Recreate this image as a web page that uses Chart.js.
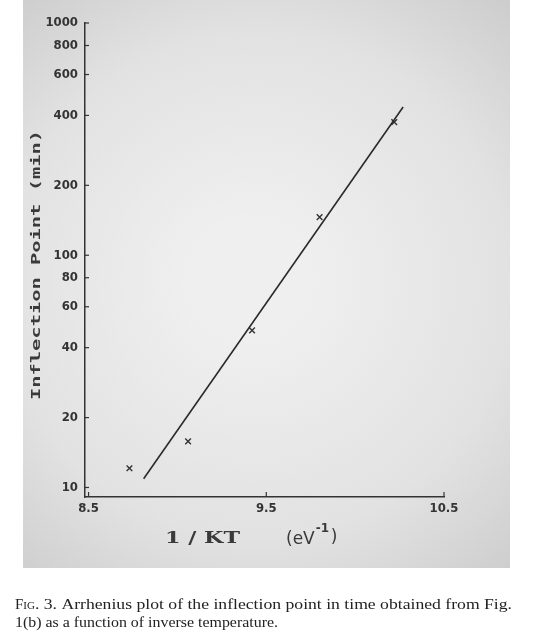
<!DOCTYPE html>
<html>
<head>
<meta charset="utf-8">
<script src="https://cdn.jsdelivr.net/npm/chart.js@4"></script>
<style>
html,body{margin:0;padding:0;background:#fff;}
#wrap{width:545px;height:643px;position:relative;}
</style>
</head>
<body>
<div id="wrap"><canvas id="c" width="545" height="643"></canvas></div>
<script>
// Data
const xValues = [8.73, 9.06, 9.42, 9.80, 10.22];      // 1/KT (eV^-1)
const yValues = [12.1, 15.8, 47.5, 146, 374];         // inflection point (min)
const fitX = [8.81, 10.27];
const fitY = [10.9, 435];
const yTickValues = [10, 20, 40, 60, 80, 100, 200, 400, 600, 800, 1000];
const xTickValues = [8.5, 9.5, 10.5];
const yTitle = 'Inflection Point (min)';
const xTitleMain = '1 / KT';
const xTitleUnit = '(eV';
const captionLine1 = 'Arrhenius plot of the inflection point in time obtained from Fig.';
const captionLine2 = '1(b) as a function of inverse temperature.';

const decor = {
  id: 'decor',
  beforeDraw(chart) {
    const ctx = chart.ctx;
    ctx.save();
    ctx.fillStyle = '#fff';
    ctx.fillRect(0, 0, chart.width, chart.height);
    const g = ctx.createRadialGradient(250, 280, 60, 260, 290, 380);
    g.addColorStop(0, '#efefef');
    g.addColorStop(0.6, '#e2e2e2');
    g.addColorStop(1, '#cdcdcd');
    ctx.fillStyle = g;
    ctx.fillRect(23, 0, 487, 568);
    ctx.restore();
  },
  afterDraw(chart) {
    const ctx = chart.ctx;
    const xs = chart.scales.x, ys = chart.scales.y;
    const ca = chart.chartArea;
    ctx.save();
    ctx.strokeStyle = '#333';
    ctx.lineWidth = 1.2;
    // inward tick marks
    ys.ticks.forEach(t => {
      const py = ys.getPixelForValue(t.value);
      ctx.beginPath(); ctx.moveTo(ca.left, py); ctx.lineTo(ca.left + 4, py); ctx.stroke();
    });
    xs.ticks.forEach(t => {
      const px = xs.getPixelForValue(t.value);
      ctx.beginPath(); ctx.moveTo(px, ca.bottom); ctx.lineTo(px, ca.bottom - 5); ctx.stroke();
    });
    // y title, rotated and stretched to its length in the figure
    ctx.fillStyle = '#3a3a3a';
    ctx.font = "bold 13px 'DejaVu Sans Mono', monospace";
    ctx.translate(37, 265);
    ctx.rotate(-Math.PI / 2);
    const w = ctx.measureText(yTitle).width;
    ctx.scale(270 / w, 1);
    ctx.textAlign = 'center'; ctx.textBaseline = 'middle';
    ctx.fillText(yTitle, 0, 0);
    ctx.restore();

    // x title
    ctx.save();
    ctx.fillStyle = '#3a3a3a';
    ctx.textBaseline = 'middle';
    ctx.textAlign = 'left';
    ctx.font = "bold 16px 'DejaVu Serif', serif";
    const mw = ctx.measureText(xTitleMain).width;
    ctx.save();
    ctx.translate(165, 539);
    ctx.scale(75 / mw, 1);
    ctx.fillText(xTitleMain, 0, 0);
    ctx.restore();
    ctx.font = "17px 'DejaVu Sans', sans-serif";
    ctx.fillText(xTitleUnit, 286, 540);
    const uw = ctx.measureText(xTitleUnit).width;
    ctx.font = "bold 12px 'DejaVu Sans', sans-serif";
    ctx.fillText('-1', 286 + uw + 1, 529);
    ctx.font = "17px 'DejaVu Sans', sans-serif";
    ctx.fillText(')', 286 + uw + 16, 538);

    // caption
    ctx.fillStyle = '#222';
    ctx.textBaseline = 'alphabetic';
    let x = 15;
    ctx.font = "15px 'Liberation Serif', serif";
    ctx.fillText('F', x, 609); x += ctx.measureText('F').width;
    ctx.font = "11px 'Liberation Serif', serif";
    ctx.fillText('IG', x, 609); x += ctx.measureText('IG').width;
    ctx.font = "15px 'Liberation Serif', serif";
    const rest = '. 3. ' + captionLine1;
    const target = 512 - x;
    const rw = ctx.measureText(rest).width;
    ctx.save();
    ctx.translate(x, 609);
    ctx.scale(target / rw, 1);
    ctx.fillText(rest, 0, 0);
    ctx.restore();
    const w2 = ctx.measureText(captionLine2).width;
    ctx.save();
    ctx.translate(15, 627);
    ctx.scale(263 / w2, 1);
    ctx.fillText(captionLine2, 0, 0);
    ctx.restore();
    ctx.restore();
  }
};

new Chart(document.getElementById('c'), {
  type: 'scatter',
  data: {
    datasets: [
      {
        label: 'fit',
        type: 'line',
        data: fitX.map((x, i) => ({x, y: fitY[i]})),
        borderColor: '#2a2a2a',
        borderWidth: 1.6,
        pointRadius: 0,
        fill: false,
        tension: 0
      },
      {
        label: 'measured',
        data: xValues.map((x, i) => ({x, y: yValues[i]})),
        pointStyle: 'crossRot',
        pointRadius: 4,
        borderColor: '#333',
        borderWidth: 1.4,
        backgroundColor: '#333'
      }
    ]
  },
  options: {
    responsive: false,
    animation: false,
    devicePixelRatio: 1,
    layout: { padding: { left: 0, right: 101, top: 23, bottom: 126 } },
    plugins: { legend: { display: false }, tooltip: { enabled: false } },
    scales: {
      x: {
        type: 'linear',
        min: 8.48, max: 10.5,
        afterBuildTicks: s => { s.ticks = xTickValues.map(v => ({value: v})); },
        afterFit: s => { s.height = 20; },
        grid: { display: false, drawTicks: false },
        border: { display: true, color: '#333', width: 1.5 },
        ticks: {
          autoSkip: false, maxRotation: 0, padding: 4,
          color: '#333', font: { family: "'Liberation Sans Narrow', 'DejaVu Sans Condensed', sans-serif", size: 13, weight: 'bold' },
          callback: v => Number(v).toFixed(1)
        }
      },
      y: {
        type: 'logarithmic',
        min: 9.1, max: 1000,
        afterBuildTicks: s => { s.ticks = yTickValues.map(v => ({value: v})); },
        afterFit: s => { s.width = 85; },
        grid: { display: false, drawTicks: false },
        border: { display: true, color: '#333', width: 1.5 },
        ticks: {
          autoSkip: false, padding: 7,
          color: '#333', font: { family: "'Liberation Sans Narrow', 'DejaVu Sans Condensed', sans-serif", size: 13, weight: 'bold' },
          callback: v => String(v)
        }
      }
    }
  },
  plugins: [decor]
});
</script>
</body>
</html>
